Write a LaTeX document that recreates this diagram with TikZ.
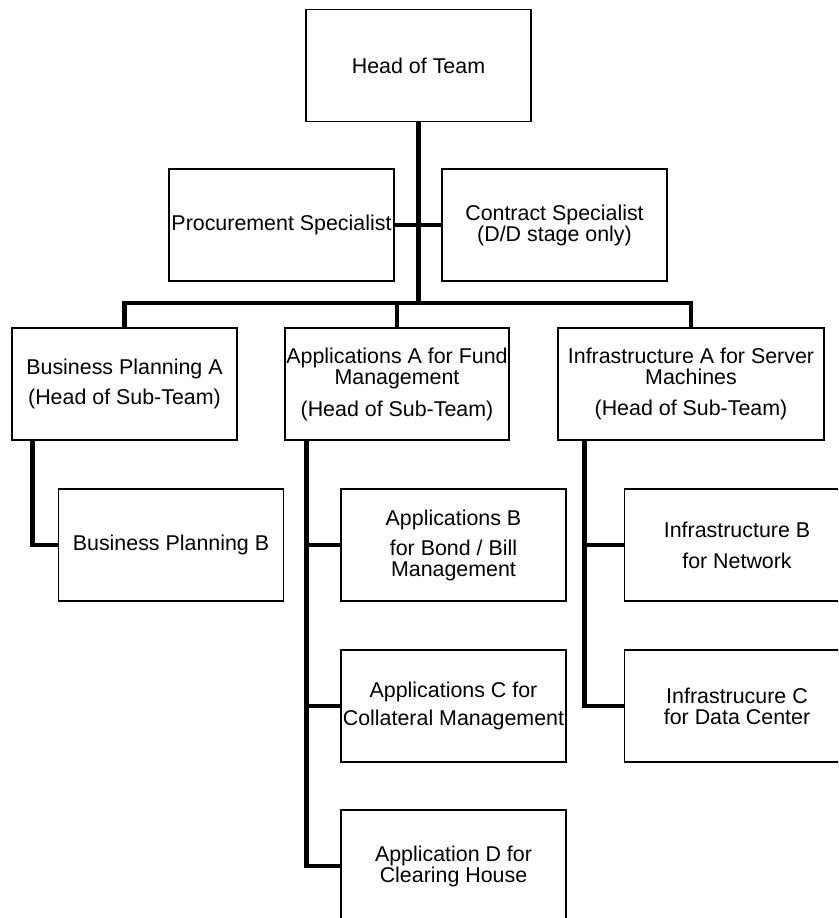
\documentclass[tikz,border=0pt]{standalone}
\usepackage{fontspec}
\setmainfont{Liberation Sans}
\tikzset{
  orgbox/.style={draw, line width=1.6pt, minimum width=225pt, minimum height=112pt,
    inner sep=0pt, align=center, font=\fontsize{21.4}{21}\selectfont},
  link/.style={line width=4.8pt, line join=miter},
}
\begin{document}
\begin{tikzpicture}[x=1pt,y=-1pt]
\useasboundingbox (0,0) rectangle (838,918);
\clip (0,0) rectangle (838,918);

% top of the hierarchy and the two staff posts
\node[orgbox] (head) at (418.5,65.5) {Head of Team};
\node[orgbox] (proc) at (281.5,225) {Procurement Specialist};
\node[orgbox] (contr) at (554.5,225) {Contract Specialist\\(D/D stage only)};

% heads of the three sub-teams
\node[orgbox] (bpa) at (124.5,384) {Business Planning A\\[9pt](Head of Sub-Team)};
\node[orgbox, minimum width=224pt] (appa) at (397,384) {Applications A for Fund\\Management\\[11pt](Head of Sub-Team)};
\node[orgbox, minimum width=266pt] (infa) at (691,384) {Infrastructure A for Server\\Machines\\[10pt](Head of Sub-Team)};

% members of the sub-teams
\node[orgbox] (bpb) at (171,545) {Business Planning B};
\node[orgbox] (appb) at (453.5,545) {Applications B\\[9pt]for Bond / Bill\\Management};
\node[orgbox] (infb) at (737,545) {Infrastructure B\\[10pt]for Network};
\node[orgbox] (appc) at (453.5,706) {Applications C for\\[7pt]Collateral Management};
\node[orgbox] (infc) at (737,706) {Infrastrucure C\\for Data Center};
\node[orgbox] (appd) at (453.5,866) {Application D for\\Clearing House};

% reporting lines from the head of team
\coordinate (hub) at (418.5,303);
\draw[link] (head.south) -- (hub);
\draw[link] (proc.east) -- (contr.west);
\draw[link] (bpa.north) |- (hub) -| (infa.north);
\draw[link] (appa.north) -- (appa.north |- hub);

% reporting lines inside each sub-team
\coordinate (bpt) at ([xshift=21pt]bpa.south west);
\draw[link] (bpt) |- (bpb.west);

\coordinate (apt) at ([xshift=22pt]appa.south west);
\draw[link] (apt) |- (appd.west);
\draw[link] (appb.west) -- (appb.west -| apt);
\draw[link] (appc.west) -- (appc.west -| apt);

\coordinate (ift) at ([xshift=27pt]infa.south west);
\draw[link] (ift) |- (infc.west);
\draw[link] (infb.west) -- (infb.west -| ift);
\end{tikzpicture}
\end{document}
